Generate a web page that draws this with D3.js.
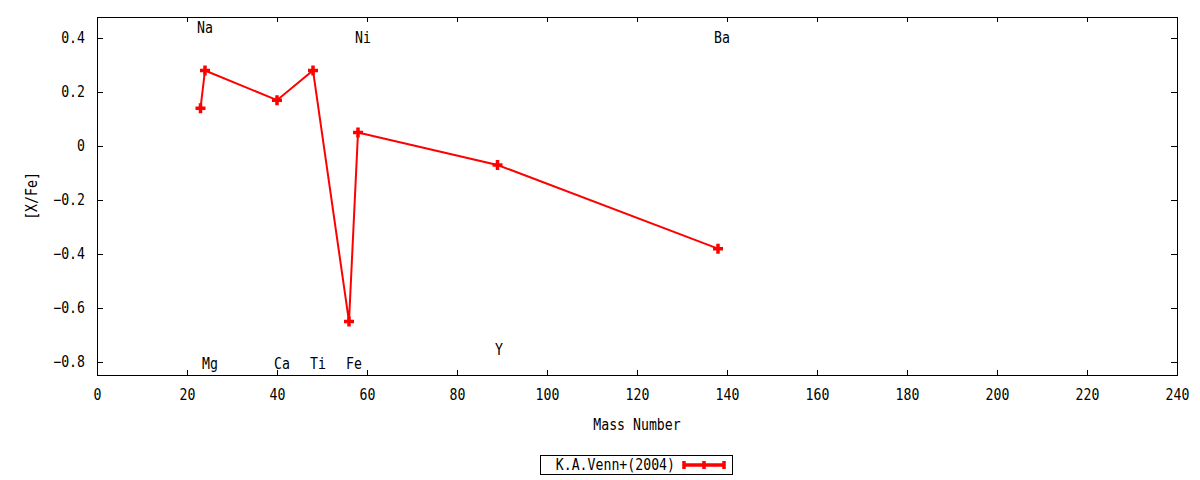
<!DOCTYPE html>
<html lang="en">
<head>
    <meta charset="UTF-8">
    <title>[X/Fe] vs Mass Number</title>
    <script src="https://d3js.org/d3.v7.min.js"></script>
    <style>
        body { margin: 0; background: #fff; }
        svg text { font-family: "DejaVu Sans Mono", monospace; font-size: 15px; fill: #000; }
        .axis path, .axis line { stroke: #000; shape-rendering: crispEdges; }
    </style>
</head>
<body>
<script>
    // data
    const massNumbers = [23, 24, 40, 48, 56, 58, 89, 138];
    const xFe = [0.14, 0.28, 0.17, 0.28, -0.65, 0.05, -0.07, -0.38];

    const labelText = ["Na", "Mg", "Ca", "Ti", "Fe", "Ni", "Y", "Ba"];
    const labelX = [24, 25.1, 41.1, 49.1, 57.1, 59.1, 89.3, 138.9];
    const labelY = [0.44, -0.805, -0.805, -0.805, -0.805, 0.4, -0.755, 0.4];

    const xTicks = d3.range(0, 241, 20);
    const yTicks = [-0.8, -0.6, -0.4, -0.2, 0, 0.2, 0.4];

    const seriesName = "K.A.Venn+(2004)";

    const width = 1200, height = 480;
    const margin = {top: 17, right: 23, bottom: 105, left: 97};
    const plotW = width - margin.left - margin.right;
    const plotH = height - margin.top - margin.bottom;
    const charW = 7.95; // narrow monospace advance like the original terminal font

    const svg = d3.select("body").append("svg")
        .attr("width", width)
        .attr("height", height);

    const g = svg.append("g")
        .attr("transform", `translate(${margin.left},${margin.top})`);

    const x = d3.scaleLinear().domain([0, 240]).range([0, plotW]);
    const y = d3.scaleLinear().domain([-0.848, 0.478]).range([plotH, 0]);

    const fmtY = d => d === 0 ? "0" : d3.format(".1f")(d);

    // bottom + top axes (ticks inward)
    g.append("g").attr("class", "axis")
        .attr("transform", `translate(0,${plotH})`)
        .call(d3.axisBottom(x).tickValues(xTicks).tickSizeInner(-5).tickSizeOuter(0).tickPadding(14))
        .call(a => a.select(".domain").remove());
    g.append("g").attr("class", "axis")
        .call(d3.axisTop(x).tickValues(xTicks).tickSizeInner(-5).tickSizeOuter(0).tickFormat(""))
        .call(a => a.select(".domain").remove());

    // left + right axes
    g.append("g").attr("class", "axis")
        .call(d3.axisLeft(y).tickValues(yTicks).tickFormat(fmtY).tickSizeInner(-6).tickSizeOuter(0).tickPadding(12))
        .call(a => a.select(".domain").remove());
    g.append("g").attr("class", "axis")
        .attr("transform", `translate(${plotW},0)`)
        .call(d3.axisRight(y).tickValues(yTicks).tickSizeInner(-6).tickSizeOuter(0).tickFormat(""))
        .call(a => a.select(".domain").remove());

    g.selectAll(".axis text").attr("font-size", null).attr("font-family", null).attr("fill", "#000");

    // frame
    g.append("rect")
        .attr("x", 0.5).attr("y", 0.5)
        .attr("width", plotW).attr("height", plotH)
        .attr("fill", "none").attr("stroke", "#000");

    // axis titles
    svg.append("text")
        .attr("x", margin.left + plotW / 2)
        .attr("y", 430)
        .attr("text-anchor", "middle")
        .text("Mass Number");

    svg.append("text")
        .attr("transform", `translate(37,${margin.top + plotH / 2}) rotate(-90)`)
        .attr("text-anchor", "middle")
        .text("[X/Fe]");

    // element labels
    g.selectAll(".elem")
        .data(labelText)
        .enter()
        .append("text")
        .attr("class", "elem")
        .attr("x", (d, i) => x(labelX[i]))
        .attr("y", (d, i) => y(labelY[i]))
        .attr("dy", "0.35em")
        .attr("text-anchor", "middle")
        .text(d => d);

    // series
    const pts = massNumbers.map((m, i) => [m, xFe[i]]);
    g.append("path")
        .datum(pts)
        .attr("fill", "none")
        .attr("stroke", "#ff0000")
        .attr("stroke-width", 2)
        .attr("d", d3.line().x(d => x(d[0])).y(d => y(d[1])));

    const plus = (sel, s) => sel.append("path")
        .attr("d", `M${-s},0H${s}M0,${-s}V${s}`)
        .attr("stroke", "#ff0000")
        .attr("stroke-width", 3.5)
        .attr("fill", "none");

    g.selectAll(".pt")
        .data(pts)
        .enter()
        .append("g")
        .attr("class", "pt")
        .attr("transform", d => `translate(${x(d[0])},${y(d[1])})`)
        .each(function () { plus(d3.select(this), 5); });

    // legend
    const lg = svg.append("g");
    lg.append("rect")
        .attr("x", 540.5).attr("y", 455.5)
        .attr("width", 192).attr("height", 19)
        .attr("fill", "#fff").attr("stroke", "#000");
    lg.append("text")
        .attr("x", 675).attr("y", 465)
        .attr("dy", "0.35em")
        .attr("text-anchor", "end")
        .text(seriesName);
    lg.append("path")
        .attr("d", "M683,465H725M684,461V469M724,461V469M704,461V469")
        .attr("stroke", "#ff0000")
        .attr("stroke-width", 3.5)
        .attr("fill", "none");

    // squeeze every label to the narrow character width
    svg.selectAll("text").each(function () {
        const t = d3.select(this);
        const n = t.text().length;
        if (n > 0) t.attr("textLength", n * charW).attr("lengthAdjust", "spacingAndGlyphs");
    });
</script>
</body>
</html>
